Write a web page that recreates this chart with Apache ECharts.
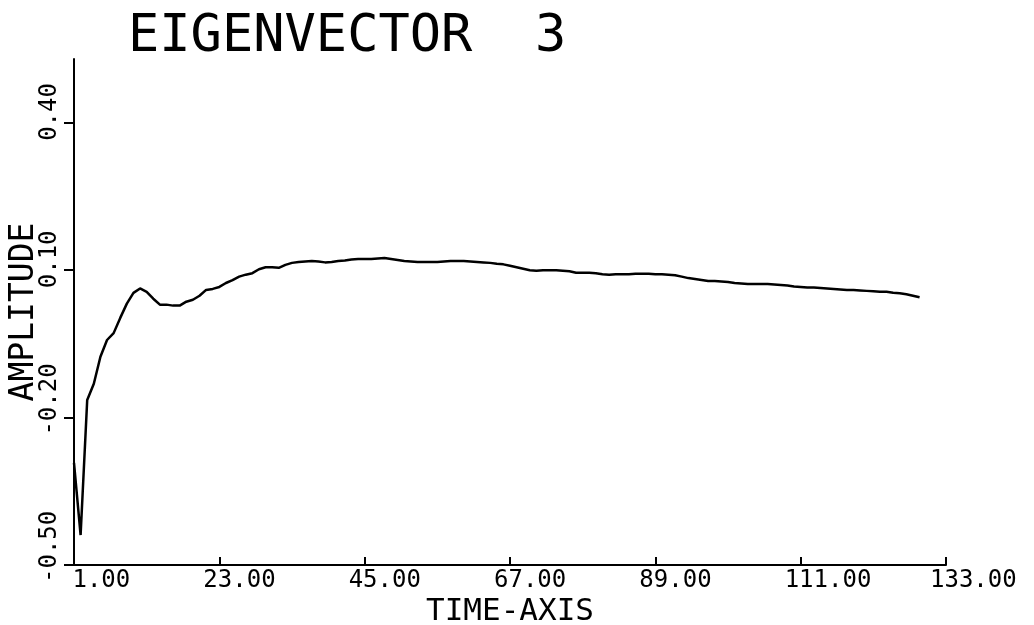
<!DOCTYPE html>
<html><head><meta charset="utf-8">
<script src="https://cdn.jsdelivr.net/npm/echarts@6/dist/echarts.min.js"></script>
<style>html,body{margin:0;padding:0;background:#fff}#c{width:1034px;height:625px}</style>
</head><body><div id="c"></div>
<script>
const titleText = 'EIGENVECTOR  3';
const xName = 'TIME-AXIS';
const yName = 'AMPLITUDE';
const xTicks = [1, 23, 45, 67, 89, 111, 133];
const yTicks = [-0.5, -0.2, 0.1, 0.4];
const times = [1,2,3,4,5,6,7,8,9,10,11,12,13,14,15,16,17,18,19,20,
  21,22,23,24,25,26,27,28,29,30,31,32,33,34,35,36,37,38,39,40,
  41,42,43,44,45,46,47,48,49,50,51,52,53,54,55,56,57,58,59,60,
  61,62,63,64,65,66,67,68,69,70,71,72,73,74,75,76,77,78,79,80,
  81,82,83,84,85,86,87,88,89,90,91,92,93,94,95,96,97,98,99,100,
  101,102,103,104,105,106,107,108,109,110,111,112,113,114,115,116,117,118,119,120,
  121,122,123,124,125,126,127,128,129];
const amplitude = [-0.292,-0.439,-0.164,-0.131,-0.076,-0.042,-0.028,0.003,0.032,0.054,
  0.063,0.056,0.042,0.030,0.030,0.028,0.028,0.036,0.040,0.048,
  0.060,0.062,0.066,0.074,0.080,0.087,0.091,0.094,0.102,0.106,
  0.106,0.105,0.111,0.115,0.117,0.118,0.119,0.118,0.116,0.117,
  0.119,0.120,0.122,0.123,0.123,0.123,0.124,0.125,0.123,0.121,
  0.119,0.118,0.117,0.117,0.117,0.117,0.118,0.119,0.119,0.119,
  0.118,0.117,0.116,0.115,0.113,0.112,0.109,0.106,0.103,0.100,
  0.099,0.100,0.100,0.100,0.099,0.098,0.095,0.095,0.095,0.094,
  0.092,0.091,0.092,0.092,0.092,0.093,0.093,0.093,0.092,0.092,
  0.091,0.090,0.087,0.084,0.082,0.080,0.078,0.078,0.077,0.076,
  0.074,0.073,0.072,0.072,0.072,0.072,0.071,0.070,0.069,0.067,
  0.066,0.065,0.065,0.064,0.063,0.062,0.061,0.060,0.060,0.059,
  0.058,0.057,0.056,0.056,0.054,0.053,0.051,0.048,0.045];

const FONT = 'DejaVu Sans Mono';
const chart = echarts.init(document.getElementById('c'), null, {renderer: 'canvas'});
const pts = times.map((t, i) => [t, amplitude[i]]);
chart.setOption({
  animation: false,
  backgroundColor: '#ffffff',
  title: {
    text: titleText, left: 123, top: 6,
    textStyle: {fontFamily: FONT, fontSize: 52, fontWeight: 'normal', color: '#000'}
  },
  grid: {left: 74, right: 88, top: 59, bottom: 60, containLabel: false, outerBoundsMode: 'none'},
  xAxis: {
    type: 'value', min: 1, max: 133,
    name: xName, nameLocation: 'middle', nameGap: 31, nameMoveOverlap: false,
    nameTextStyle: {fontFamily: FONT, fontSize: 31, color: '#000', align: 'center', verticalAlign: 'top'},
    axisLine: {onZero: false, lineStyle: {color: '#000', width: 2}},
    axisTick: {show: true, inside: true, length: 8, customValues: xTicks, lineStyle: {color: '#000', width: 2}},
    axisLabel: {
      customValues: xTicks, margin: 4, color: '#000', fontFamily: FONT, fontSize: 24,
      align: 'left', padding: [0, 0, 0, -16],
      formatter: v => v.toFixed(2).padStart(5, ' ')
    },
    splitLine: {show: false}
  },
  yAxis: {
    type: 'value', min: -0.5, max: 0.53,
    name: yName, nameLocation: 'middle', nameGap: 33, nameRotate: 90, nameMoveOverlap: false,
    nameTextStyle: {fontFamily: FONT, fontSize: 33, color: '#000', align: 'center', verticalAlign: 'bottom'},
    axisLine: {onZero: false, lineStyle: {color: '#000', width: 2}},
    axisTick: {show: true, inside: false, length: 10, customValues: yTicks, lineStyle: {color: '#000', width: 2}},
    axisLabel: {
      customValues: yTicks, rotate: 90, margin: 12, color: '#000', fontFamily: FONT, fontSize: 24,
      align: 'left', verticalAlign: 'bottom', padding: [0, 0, 0, -18],
      formatter: v => v.toFixed(2)
    },
    splitLine: {show: false}
  },
  series: [{
    type: 'line', data: pts, showSymbol: false, smooth: false,
    lineStyle: {color: '#000', width: 2.5}
  }]
});
</script></body></html>
